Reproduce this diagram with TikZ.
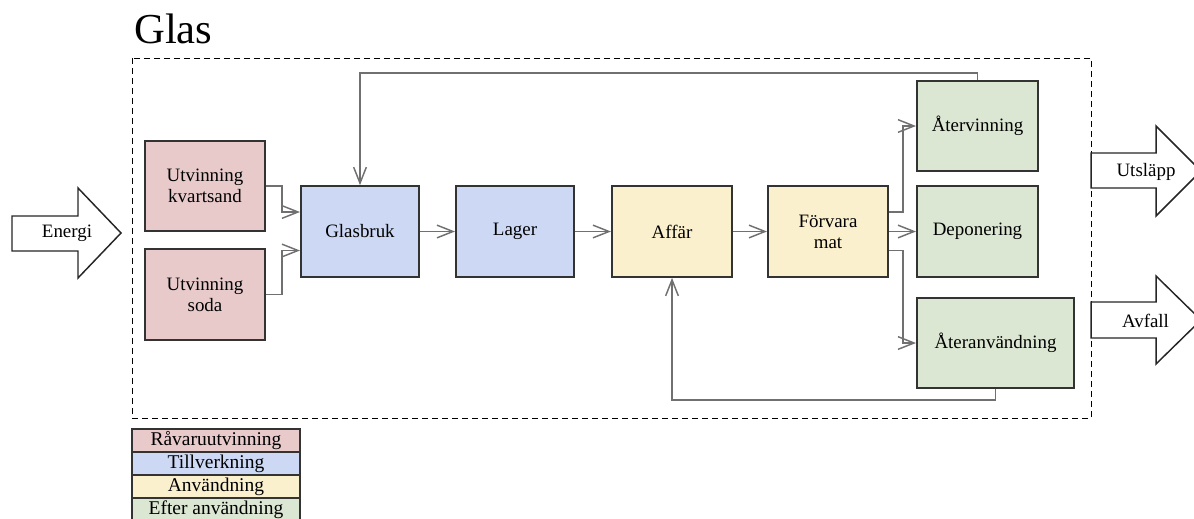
\documentclass[tikz,border=0pt]{standalone}
\usepackage{fontspec}
\setmainfont{Liberation Serif}
\usetikzlibrary{arrows.meta,calc}
\definecolor{cpink}{HTML}{E8CACB}
\definecolor{cblue}{HTML}{CCD8F4}
\definecolor{cyell}{HTML}{FAF0CE}
\definecolor{cgreen}{HTML}{DCE7D3}
\definecolor{cline}{HTML}{707070}
\definecolor{cbord}{HTML}{333333}
\tikzset{
  box/.style={draw=cbord,line width=1.5pt,minimum width=90pt,minimum height=68pt,align=center,inner sep=2pt,font=\fontsize{14.2}{15.8}\selectfont},
  conn/.style={draw=cline,line width=1.1pt,-{Straight Barb[length=12pt,width=9.5pt,line width=1.1pt]}},
  bigarrow/.style={draw=black!85,line width=1.1pt,fill=white,line join=miter},
  txt/.style={font=\fontsize{14.2}{15.8}\selectfont,inner sep=0pt},
  leg/.style={draw=cbord,line width=1.1pt,minimum width=126pt,minimum height=17.25pt,inner sep=0pt,font=\fontsize{14.6}{15}\selectfont}
}
\begin{document}
\begin{tikzpicture}[x=0.75pt,y=-0.75pt]
\clip (0,0) rectangle (1194,518);
\useasboundingbox (0,0) rectangle (1194,518);
% title
\node[anchor=base west,inner sep=0pt,font=\fontsize{32}{36}\selectfont] (title) at (134,43) {Glas};
% frame
\draw[black,line width=0.75pt,dash pattern=on 4.5pt off 3pt] (132,58) rectangle (1091,418);
% boxes
\node[box,fill=cpink] (kv) at (205,186) {Utvinning\\kvartsand};
\node[box,fill=cpink] (soda) at (205,294.5) {Utvinning\\soda};
\node[box,fill=cblue,minimum width=88.5pt] (glas) at (360,231.5) {Glasbruk};
\node[box,fill=cblue,minimum width=88.5pt] (lager) at (515,231.5) {Lager};
\node[box,fill=cyell] (affar) at (672,231.5) {Affär};
\node[box,fill=cyell] (forv) at (828,231.5) {Förvara\\mat};
\node[box,fill=cgreen,minimum width=90.75pt] (aterv) at (977.5,126) {Återvinning};
\node[box,fill=cgreen,minimum width=90.75pt] (depo) at (977.5,231.5) {Deponering};
\node[box,fill=cgreen,minimum width=117.75pt] (ateran) at (995.5,343) {Återanvändning};
% connectors
\draw[conn] (kv.east) -| ($(glas.west)+(-18,-19.5)$) -- ($(glas.west)+(0,-19.5)$);
\draw[conn] (soda.east) -| ($(glas.west)+(-18,19)$) -- ($(glas.west)+(0,19)$);
\draw[conn] (glas) -- (lager);
\draw[conn] (lager) -- (affar);
\draw[conn] (affar) -- (forv);
\draw[conn] (forv) -- (depo);
\coordinate (fsplit) at (903,0);
\draw[conn] ($(forv.east)+(0,-19.5)$) -| (fsplit |- aterv.west) -- (aterv.west);
\draw[conn] ($(forv.east)+(0,19)$) -| (fsplit |- ateran.west) -- (ateran.west);
\coordinate (topy) at (0,73);
\coordinate (boty) at (0,400);
\draw[conn] (aterv.north) -- (aterv.north |- topy) -| (glas.north);
\draw[conn] (ateran.south) -- (ateran.south |- boty) -| (affar.south);
% big arrows
\draw[bigarrow] (12,216) -- (78,216) -- (78,188) -- (121,233) -- (78,278) -- (78,251) -- (12,251) -- cycle;
\node[txt] (energi) at (67,233) {Energi};
\draw[bigarrow] (1091,153) -- (1156,153) -- (1156,126) -- (1201,171) -- (1156,216) -- (1156,188) -- (1091,188) -- cycle;
\node[txt] (utslapp) at (1146,172) {Utsläpp};
\draw[bigarrow] (1091,302) -- (1156,302) -- (1156,276) -- (1201,320) -- (1156,364) -- (1156,338) -- (1091,338) -- cycle;
\node[txt] (avfall) at (1145.5,321) {Avfall};
% legend
\node[leg,fill=cpink] (l1) at (216,440.5) {Råvaruutvinning};
\node[leg,fill=cblue] (l2) at (216,463.5) {Tillverkning};
\node[leg,fill=cyell] (l3) at (216,486.5) {Användning};
\node[leg,fill=cgreen] (l4) at (216,509.5) {Efter användning};
\end{tikzpicture}
\end{document}
